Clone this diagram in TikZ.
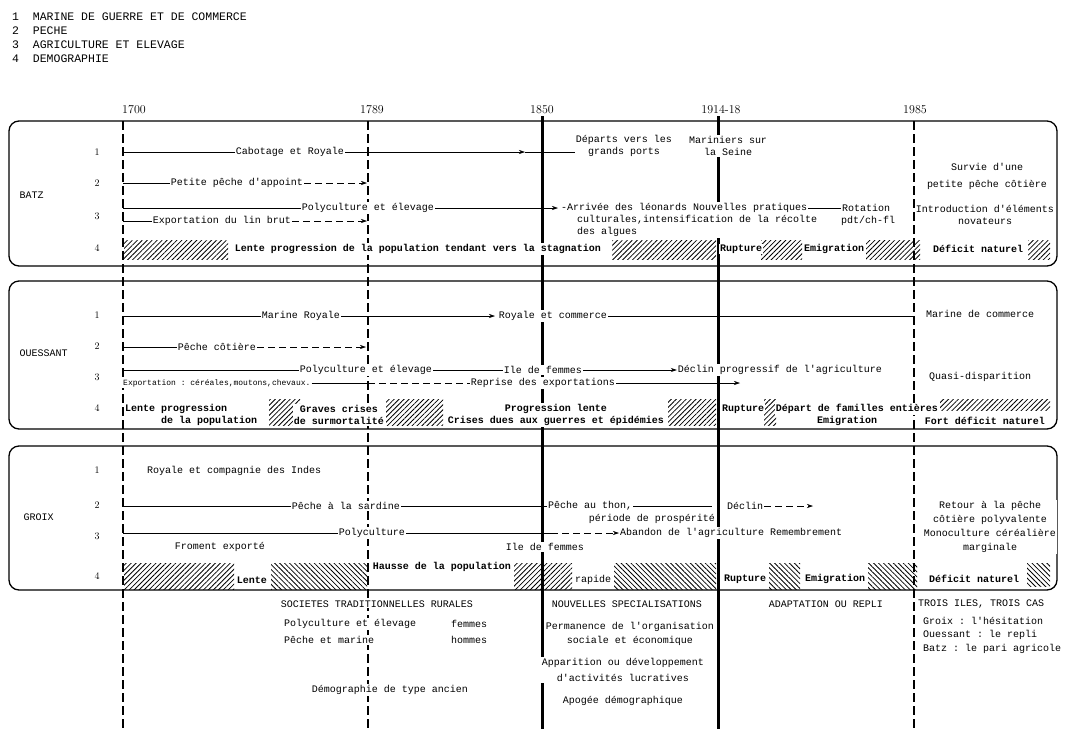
\documentclass[tikz,border=0pt]{standalone}
\usepackage{fontspec}
\setmonofont{Liberation Mono}
\usetikzlibrary{arrows.meta,patterns.meta}

\tikzset{
  lbl/.style={font=\ttfamily\fontsize{10}{12}\selectfont, fill=white, inner sep=1pt, align=center},
  lblb/.style={lbl, font=\ttfamily\bfseries\fontsize{10}{12}\selectfont},
  isle/.style={font=\ttfamily\fontsize{10}{12}\selectfont, anchor=west},
  rownum/.style={font=\rmfamily\fontsize{10}{12}\selectfont},
  yearlbl/.style={font=\rmfamily\fontsize{12}{14}\selectfont},
  legend/.style={font=\ttfamily\fontsize{11.5}{13}\selectfont, anchor=west, inner sep=0pt},
  islebox/.style={line width=1.3pt, rounded corners=10pt},
  thin era/.style={line width=1.4pt, dash pattern=on 9pt off 4pt},
  thick era/.style={line width=3pt},
  trend/.style={line width=0.6pt},
  fade/.style={trend, dash pattern=on 7pt off 4pt},
  arrowed/.style={-{Stealth[length=6pt,width=4pt]}},
  hne/.style={pattern={Lines[angle=45,distance=3.5pt,line width=0.8pt]}},
  hnw/.style={pattern={Lines[angle=-45,distance=3.5pt,line width=0.8pt]}},
}

\begin{document}
\begin{tikzpicture}[x=1pt,y=-1pt]
\useasboundingbox (0,0) rectangle (1066,729);

% legend
\node[legend] (leg1) at (12,17) {1\ \ MARINE DE GUERRE ET DE COMMERCE};
\node[legend] (leg2) at (12,31) {2\ \ PECHE};
\node[legend] (leg3) at (12,45) {3\ \ AGRICULTURE ET ELEVAGE};
\node[legend] (leg4) at (12,59) {4\ \ DEMOGRAPHIE};

% years
\node[yearlbl] (y1700) at (134,110) {1700};
\node[yearlbl] (y1789) at (372,110) {1789};
\node[yearlbl] (y1850) at (542,110) {1850};
\node[yearlbl] (y1914) at (721,110) {1914-18};
\node[yearlbl] (y1985) at (915,110) {1985};

\draw[thin era] (123,121) -- (123,729);
\draw[thin era] (368,121) -- (368,729);
\draw[thick era] (542,116) -- (542,729);
\draw[thick era] (718,116) -- (718,729);
\draw[thin era] (914,121) -- (914,729);

\draw[islebox] (9,121) rectangle (1057,266);
\draw[islebox] (9,281) rectangle (1057,429);
\draw[islebox] (9,446) rectangle (1057,590);

% BATZ
\node[isle] (batz) at (16,195) {BATZ};
\node[rownum] (bn1) at (97,152) {1};
\node[rownum] (bn2) at (97,183) {2};
\node[rownum] (bn3) at (97,216) {3};
\node[rownum] (bn4) at (97,248) {4};

\coordinate (b1a) at (123,152);
\coordinate (b1t) at (525,152);
\node[lbl] (cab) at (290,152) {Cabotage et Royale};
\node[lbl] (dep) at (624,146) {Départs vers les\\grands ports};
\node[lbl] (mar) at (728,146) {Mariniers sur\\la Seine};
\draw[trend] (b1a) -- (cab);
\draw[trend,arrowed] (cab) -- (b1t);
\draw[trend] (b1t) -- (b1t -| dep.west);

\coordinate (b2a) at (123,183);
\coordinate (b2t) at (367,183);
\node[lbl] (ppa) at (237,183) {Petite pêche d'appoint};
\draw[trend] (b2a) -- (ppa);
\draw[fade,arrowed] (ppa) -- (b2t);

\coordinate (b3a) at (123,208);
\coordinate (b3t) at (558,208);
\node[lbl] (bpol) at (368,208) {Polyculture et élevage};
\node[lbl,anchor=west] (arr) at (560,208) {-Arrivée des léonards Nouvelles pratiques};
\node[lbl,anchor=north west,align=left] (cul) at (576,214) {culturales,intensification de la récolte\\des algues};
\node[lbl] (rot) at (866,208) {Rotation};
\node[lbl] (pdt) at (868,221) {pdt/ch-fl};
\draw[trend] (b3a) -- (bpol);
\draw[trend,arrowed] (bpol) -- (b3t);
\draw[trend] (arr) -- (rot);

\coordinate (b3b) at (123,221);
\coordinate (b3u) at (367,221);
\node[lbl] (lin) at (222,221) {Exportation du lin brut};
\draw[trend] (b3b) -- (lin);
\draw[fade,arrowed] (lin) -- (b3u);

\node[lbl] (sur) at (987,176) {Survie d'une\\[5pt]petite pêche côtière};
\node[lbl] (intro) at (985,215) {Introduction d'éléments\\novateurs};

\path[hne] (124,240) rectangle (228,259);
\path[hne] (612,240) rectangle (716,259);
\path[hne] (761,240) rectangle (802,259);
\path[hne] (866,240) rectangle (920,259);
\path[hne] (1028,240) rectangle (1050,259);
\node[lblb] (blen) at (418,249) {Lente progression de la population tendant vers la stagnation};
\node[lblb] (brup) at (741,249) {Rupture};
\node[lblb] (bemi) at (834,249) {Emigration};
\node[lblb] (bdef) at (978,249) {Déficit naturel};

% OUESSANT
\node[isle] (oues) at (16,353) {OUESSANT};
\node[rownum] (on1) at (97,315) {1};
\node[rownum] (on2) at (97,346) {2};
\node[rownum] (on3) at (97,377) {3};
\node[rownum] (on4) at (97,408) {4};

\coordinate (o1a) at (123,316);
\coordinate (o1t) at (495,316);
\coordinate (o1e) at (914,316);
\node[lbl] (mroy) at (301,316) {Marine Royale};
\node[lbl] (rcom) at (553,316) {Royale et commerce};
\node[lbl] (mcom) at (980,314) {Marine de commerce};
\draw[trend] (o1a) -- (mroy);
\draw[trend,arrowed] (mroy) -- (o1t);
\draw[trend] (rcom) -- (o1e);

\coordinate (o2a) at (123,347);
\coordinate (o2t) at (366,347);
\node[lbl] (pco) at (217,347) {Pêche côtière};
\draw[trend] (o2a) -- (pco);
\draw[fade,arrowed] (pco) -- (o2t);

\coordinate (o3a) at (123,370);
\node[lbl] (opol) at (366,370) {Polyculture et élevage};
\node[lbl] (oife) at (543,370) {Ile de femmes};
\node[lbl] (odec) at (780,370) {Déclin progressif de l'agriculture};
\draw[trend] (o3a) -- (opol);
\draw[trend] (opol) -- (oife);
\draw[trend,arrowed] (oife) -- (odec);

\coordinate (o3m) at (368,383);
\coordinate (o3t) at (740,383);
\node[lbl,anchor=west,font=\ttfamily\fontsize{8}{10}\selectfont] (oexp) at (122,383) {Exportation : céréales,moutons,chevaux.};
\node[lbl] (orep) at (543,383) {Reprise des exportations};
\draw[trend] (oexp) -- (o3m);
\draw[fade] (o3m) -- (orep);
\draw[trend,arrowed] (orep) -- (o3t);

\node[lbl] (qua) at (980,377) {Quasi-disparition};

\path[hne] (269,399) rectangle (300,425);
\path[hne] (386,399) rectangle (443,425);
\path[hne] (668,399) rectangle (716,425);
\path[hne] (764,399) rectangle (776,425);
\path[hne] (940,399) rectangle (1050,410);
\node[lblb,anchor=west,align=left] (olen) at (124,415) {Lente progression\\\ \ \ \ \ \ de la population};
\node[lblb] (ogra) at (339,415) {Graves crises\\de surmortalité};
\node[lblb] (oprg) at (556,415) {Progression lente\\Crises dues aux guerres et épidémies};
\node[lblb] (orup) at (743,409) {Rupture};
\node[lblb] (odep) at (857,409) {Départ de familles entières};
\node[lblb] (oemi) at (847,421) {Emigration};
\node[lblb] (ofd) at (985,421) {Fort déficit naturel};

% GROIX
\node[isle] (groix) at (20,517) {GROIX};
\node[rownum] (gn1) at (97,470) {1};
\node[rownum] (gn2) at (97,505) {2};
\node[rownum] (gn3) at (97,536) {3};
\node[rownum] (gn4) at (97,576) {4};

\node[lbl,anchor=west] (groy) at (146,471) {Royale et compagnie des Indes};

\coordinate (g2a) at (123,506);
\coordinate (g2e) at (712,506);
\coordinate (g2t) at (813,506);
\node[lbl] (sar) at (346,506) {Pêche à la sardine};
\node[lbl,anchor=west] (thon) at (547,506) {Pêche au thon,};
\node[lbl,anchor=east] (pros) at (716,519) {période de prospérité};
\node[lbl] (gdec) at (745,506) {Déclin};
\draw[trend] (g2a) -- (sar);
\draw[trend] (sar) -- (thon);
\draw[trend] (thon) -- (g2e);
\draw[fade,arrowed] (gdec) -- (g2t);

\coordinate (g3a) at (123,533);
\coordinate (g3m) at (551,533);
\node[lbl] (gpol) at (372,533) {Polyculture};
\node[lbl,anchor=west] (aban) at (619,533) {Abandon de l'agriculture Remembrement};
\draw[trend] (g3a) -- (gpol);
\draw[trend] (gpol) -- (g3m);
\draw[fade,arrowed] (g3m) -- (aban);

\node[lbl] (fro) at (220,547) {Froment exporté};
\node[lbl] (gife) at (545,547) {Ile de femmes};
\node[lbl] (ret) at (990,527) {Retour à la pêche\\[2pt]côtière polyvalente\\[2pt]Monoculture céréalière\\[2pt]marginale};

\path[hne] (124,563) rectangle (234,589);
\path[hnw] (271,563) rectangle (367,589);
\path[hne] (514,563) rectangle (572,589);
\path[hnw] (614,563) rectangle (716,589);
\path[hnw] (769,563) rectangle (800,589);
\path[hnw] (868,563) rectangle (917,589);
\path[hnw] (1027,563) rectangle (1050,586);
\node[lblb] (glen) at (252,580) {Lente};
\node[lblb] (ghau) at (442,567) {Hausse de la population};
\node[lbl] (grap) at (593,580) {rapide};
\node[lblb] (grup) at (745,579) {Rupture};
\node[lblb] (gemi) at (835,579) {Emigration};
\node[lblb] (gdef) at (974,579) {Déficit naturel};

% below the islands
\node[lbl] (soc) at (377,604) {SOCIETES TRADITIONNELLES RURALES};
\node[lbl,anchor=west] (spe) at (283,624) {Polyculture et élevage};
\node[lbl,anchor=west] (sfe) at (450,624) {femmes};
\node[lbl,anchor=west] (spm) at (283,640) {Pêche et marine};
\node[lbl,anchor=west] (sho) at (450,640) {hommes};
\node[lbl] (sdem) at (390,690) {Démographie de type ancien};

\node[lbl] (nsp) at (627,604) {NOUVELLES SPECIALISATIONS};
\node[lbl] (nper) at (630,634) {Permanence de l'organisation\\[2pt]sociale et économique};
\node[lbl] (napp) at (623,670) {Apparition ou développement\\[4pt]d'activités lucratives};
\node[lbl] (napo) at (623,701) {Apogée démographique};

\node[lbl] (ada) at (826,604) {ADAPTATION OU REPLI};
\node[lbl,anchor=west] (tro) at (917,604) {TROIS ILES, TROIS CAS};
\node[lbl,anchor=west] (tgr) at (922,621) {Groix : l'hésitation};
\node[lbl,anchor=west] (tou) at (922,635) {Ouessant : le repli};
\node[lbl,anchor=west] (tba) at (922,649) {Batz : le pari agricole};
\end{tikzpicture}
\end{document}
